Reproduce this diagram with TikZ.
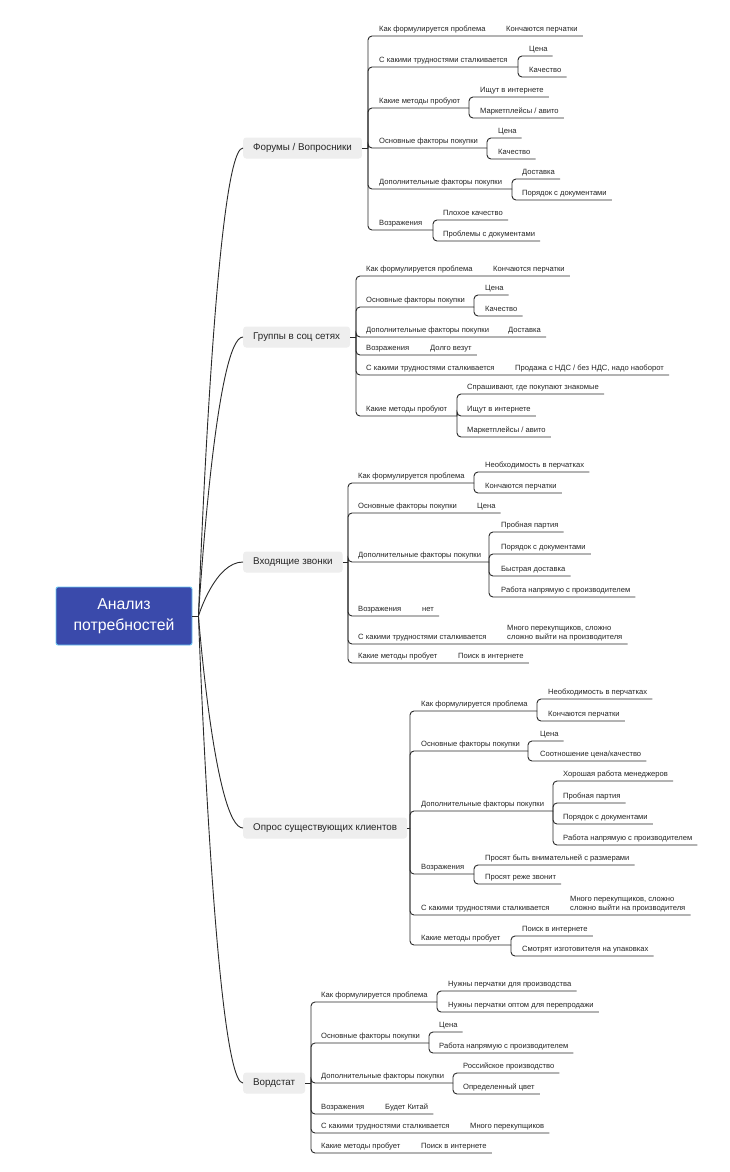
\documentclass[tikz,border=0pt]{standalone}
\usepackage{fontspec}
\setmainfont{Liberation Sans}
\definecolor{rootblue}{HTML}{3A4AAB}
\definecolor{rootedge}{HTML}{6CC8F2}
\definecolor{topicgray}{HTML}{EEEEEE}
\definecolor{linegray}{HTML}{2A2A2A}

\begin{document}
\begin{tikzpicture}[x = 1pt, y = -1pt,
  root/.style = {draw = rootedge, line width = .9pt, fill = rootblue, rounded corners = 2pt, text = white,
    font = \fontsize{15.8}{20.5}\selectfont, align = center, minimum width = 136pt, minimum height = 58pt},
  topic/.style = {fill = topicgray, rounded corners = 3pt, anchor = west, inner xsep = 10pt, minimum height = 21pt,
    font = \fontsize{9.8}{12}\selectfont, text = black!85},
  item/.style = {anchor = south west, inner xsep = 0pt, inner ysep = 2.5pt, text height = 5.5pt, text depth = 2pt,
    font = \fontsize{7.6}{9}\selectfont, text = black!85},
  link/.style = {draw = linegray, line width = .9pt, rounded corners = 4pt},
  curve/.style = {draw = linegray, line width = .9pt}]
\fill[white] (0,0) rectangle (730,1172);
\useasboundingbox (0,0) rectangle (730,1172);

\node[root] (root) at (124,616) {Анализ\\потребностей};
\coordinate (hub) at ([xshift = 6pt]root.east);

\node[topic] (forum) at (243,148) {Форумы / Вопросники};
\node[topic] (groups) at (243,337) {Группы в соц сетях};
\node[topic] (calls) at (243,562) {Входящие звонки};
\node[topic] (survey) at (243,828) {Опрос существующих клиентов};
\node[topic] (wordstat) at (243,1083) {Вордстат};

\draw[curve] (root.east) -- (hub);
\foreach \t in {forum, groups, calls, survey, wordstat}
  \draw[curve] (hub) .. controls (hub) and ([xshift = -28pt]\t.west) .. (\t.west);

% Форумы / Вопросники
\coordinate (fj) at (368,148);
\node[item] (f1) at (379,36) {Как формулируется проблема};
\node[item] (f1a) at (506,36) {Кончаются перчатки};
\node[item] (f2) at (379,67) {С какими трудностями сталкивается};
\coordinate (f2j) at (518,67);
\node[item] (f2a) at (529,56) {Цена};
\node[item] (f2b) at (529,77) {Качество};
\node[item] (f3) at (379,108) {Какие методы пробуют};
\coordinate (f3j) at (469,108);
\node[item] (f3a) at (480,97) {Ищут в интернете};
\node[item] (f3b) at (480,118) {Маркетплейсы / авито};
\node[item] (f4) at (379,148) {Основные факторы покупки};
\coordinate (f4j) at (487,148);
\node[item] (f4a) at (498,138) {Цена};
\node[item] (f4b) at (498,159) {Качество};
\node[item] (f5) at (379,189) {Дополнительные факторы покупки};
\coordinate (f5j) at (512,189);
\node[item] (f5a) at (522,179) {Доставка};
\node[item] (f5b) at (522,200) {Порядок с документами};
\node[item] (f6) at (379,230) {Возражения};
\coordinate (f6j) at (433,230);
\node[item] (f6a) at (443,220) {Плохое качество};
\node[item] (f6b) at (443,241) {Проблемы с документами};

\draw[link] (forum) -- (fj);
\draw[link] (fj) |- ([xshift = 5pt]f1a.south east);
\draw[link] (fj) |- (f2j);
\draw[link] (f2j) |- ([xshift = 5pt]f2a.south east);
\draw[link] (f2j) |- ([xshift = 5pt]f2b.south east);
\draw[link] (fj) |- (f3j);
\draw[link] (f3j) |- ([xshift = 5pt]f3a.south east);
\draw[link] (f3j) |- ([xshift = 5pt]f3b.south east);
\draw[link] (fj) |- (f4j);
\draw[link] (f4j) |- ([xshift = 5pt]f4a.south east);
\draw[link] (f4j) |- ([xshift = 5pt]f4b.south east);
\draw[link] (fj) |- (f5j);
\draw[link] (f5j) |- ([xshift = 5pt]f5a.south east);
\draw[link] (f5j) |- ([xshift = 5pt]f5b.south east);
\draw[link] (fj) |- (f6j);
\draw[link] (f6j) |- ([xshift = 5pt]f6a.south east);
\draw[link] (f6j) |- ([xshift = 5pt]f6b.south east);

% Группы в соц сетях
\coordinate (gj) at (356,337);
\node[item] (g1) at (366,276) {Как формулируется проблема};
\node[item] (g1a) at (493,276) {Кончаются перчатки};
\node[item] (g2) at (366,307) {Основные факторы покупки};
\coordinate (g2j) at (474,307);
\node[item] (g2a) at (485,295) {Цена};
\node[item] (g2b) at (485,316) {Качество};
\node[item] (g3) at (366,337) {Дополнительные факторы покупки};
\node[item] (g3a) at (508,337) {Доставка};
\node[item] (g4) at (366,355) {Возражения};
\node[item] (g4a) at (430,355) {Долго везут};
\node[item] (g5) at (366,375) {С какими трудностями сталкивается};
\node[item] (g5a) at (515,375) {Продажа с НДС / без НДС, надо наоборот};
\node[item] (g6) at (366,416) {Какие методы пробуют};
\coordinate (g6j) at (457,416);
\node[item] (g6a) at (467,394) {Спрашивают, где покупают знакомые};
\node[item] (g6b) at (467,416) {Ищут в интернете};
\node[item] (g6c) at (467,437) {Маркетплейсы / авито};

\draw[link] (groups) -- (gj);
\draw[link] (gj) |- ([xshift = 5pt]g1a.south east);
\draw[link] (gj) |- (g2j);
\draw[link] (g2j) |- ([xshift = 5pt]g2a.south east);
\draw[link] (g2j) |- ([xshift = 5pt]g2b.south east);
\draw[link] (gj) |- ([xshift = 5pt]g3a.south east);
\draw[link] (gj) |- ([xshift = 5pt]g4a.south east);
\draw[link] (gj) |- ([xshift = 5pt]g5a.south east);
\draw[link] (gj) |- (g6j);
\draw[link] (g6j) |- ([xshift = 5pt]g6a.south east);
\draw[link] (g6j) |- ([xshift = 5pt]g6b.south east);
\draw[link] (g6j) |- ([xshift = 5pt]g6c.south east);

% Входящие звонки
\coordinate (cj) at (348,562);
\node[item] (c1) at (358,483) {Как формулируется проблема};
\coordinate (c1j) at (474,483);
\node[item] (c1a) at (485,472) {Необходимость в перчатках};
\node[item] (c1b) at (485,493) {Кончаются перчатки};
\node[item] (c2) at (358,513) {Основные факторы покупки};
\node[item] (c2a) at (477,513) {Цена};
\node[item] (c3) at (358,562) {Дополнительные факторы покупки};
\coordinate (c3j) at (489,562);
\node[item] (c3a) at (501,532) {Пробная партия};
\node[item] (c3b) at (501,554) {Порядок с документами};
\node[item] (c3c) at (501,576) {Быстрая доставка};
\node[item] (c3d) at (501,597) {Работа напрямую с производителем};
\node[item] (c4) at (358,616) {Возражения};
\node[item] (c4a) at (422,616) {нет};
\node[item] (c5) at (358,644) {С какими трудностями сталкивается};
\node[item, align = left] (c5a) at (507,644) {Много перекупщиков, сложно\\сложно выйти на производителя};
\node[item] (c6) at (358,663) {Какие методы пробует};
\node[item] (c6a) at (458,663) {Поиск в интернете};

\draw[link] (calls) -- (cj);
\draw[link] (cj) |- (c1j);
\draw[link] (c1j) |- ([xshift = 5pt]c1a.south east);
\draw[link] (c1j) |- ([xshift = 5pt]c1b.south east);
\draw[link] (cj) |- ([xshift = 5pt]c2a.south east);
\draw[link] (cj) |- (c3j);
\draw[link] (c3j) |- ([xshift = 5pt]c3a.south east);
\draw[link] (c3j) |- ([xshift = 5pt]c3b.south east);
\draw[link] (c3j) |- ([xshift = 5pt]c3c.south east);
\draw[link] (c3j) |- ([xshift = 5pt]c3d.south east);
\draw[link] (cj) |- ([xshift = 5pt]c4a.south east);
\draw[link] (cj) |- ([xshift = 5pt]c5a.south east);
\draw[link] (cj) |- ([xshift = 5pt]c6a.south east);

% Опрос существующих клиентов
\coordinate (sj) at (410,828);
\node[item] (s1) at (421,711) {Как формулируется проблема};
\coordinate (s1j) at (537,711);
\node[item] (s1a) at (548,699) {Необходимость в перчатках};
\node[item] (s1b) at (548,721) {Кончаются перчатки};
\node[item] (s2) at (421,751) {Основные факторы покупки};
\coordinate (s2j) at (528,751);
\node[item] (s2a) at (540,741) {Цена};
\node[item] (s2b) at (540,761) {Соотношение цена/качество};
\node[item] (s3) at (421,811) {Дополнительные факторы покупки};
\coordinate (s3j) at (553,811);
\node[item] (s3a) at (563,781) {Хорошая работа менеджеров};
\node[item] (s3b) at (563,803) {Пробная партия};
\node[item] (s3c) at (563,824) {Порядок с документами};
\node[item] (s3d) at (563,845) {Работа напрямую с производителем};
\node[item] (s4) at (421,874) {Возражения};
\coordinate (s4j) at (474,874);
\node[item] (s4a) at (485,865) {Просят быть внимательней с размерами};
\node[item] (s4b) at (485,884) {Просят реже звонит};
\node[item] (s5) at (421,915) {С какими трудностями сталкивается};
\node[item, align = left] (s5a) at (570,915) {Много перекупщиков, сложно\\сложно выйти на производителя};
\node[item] (s6) at (421,945) {Какие методы пробует};
\coordinate (s6j) at (511,945);
\node[item] (s6a) at (522,936) {Поиск в интернете};
\node[item] (s6b) at (522,956) {Смотрят изготовителя на упаковках};

\draw[link] (survey) -- (sj);
\draw[link] (sj) |- (s1j);
\draw[link] (s1j) |- ([xshift = 5pt]s1a.south east);
\draw[link] (s1j) |- ([xshift = 5pt]s1b.south east);
\draw[link] (sj) |- (s2j);
\draw[link] (s2j) |- ([xshift = 5pt]s2a.south east);
\draw[link] (s2j) |- ([xshift = 5pt]s2b.south east);
\draw[link] (sj) |- (s3j);
\draw[link] (s3j) |- ([xshift = 5pt]s3a.south east);
\draw[link] (s3j) |- ([xshift = 5pt]s3b.south east);
\draw[link] (s3j) |- ([xshift = 5pt]s3c.south east);
\draw[link] (s3j) |- ([xshift = 5pt]s3d.south east);
\draw[link] (sj) |- (s4j);
\draw[link] (s4j) |- ([xshift = 5pt]s4a.south east);
\draw[link] (s4j) |- ([xshift = 5pt]s4b.south east);
\draw[link] (sj) |- ([xshift = 5pt]s5a.south east);
\draw[link] (sj) |- (s6j);
\draw[link] (s6j) |- ([xshift = 5pt]s6a.south east);
\draw[link] (s6j) |- ([xshift = 5pt]s6b.south east);

% Вордстат
\coordinate (wj) at (311,1083);
\node[item] (w1) at (321,1002) {Как формулируется проблема};
\coordinate (w1j) at (437,1002);
\node[item] (w1a) at (448,991) {Нужны перчатки для производства};
\node[item] (w1b) at (448,1012) {Нужны перчатки оптом для перепродажи};
\node[item] (w2) at (321,1043) {Основные факторы покупки};
\coordinate (w2j) at (429,1043);
\node[item] (w2a) at (439,1032) {Цена};
\node[item] (w2b) at (439,1053) {Работа напрямую с производителем};
\node[item] (w3) at (321,1083) {Дополнительные факторы покупки};
\coordinate (w3j) at (453,1083);
\node[item] (w3a) at (463,1073) {Российское производство};
\node[item] (w3b) at (463,1094) {Определенный цвет};
\node[item] (w4) at (321,1114) {Возражения};
\node[item] (w4a) at (385,1114) {Будет Китай};
\node[item] (w5) at (321,1133) {С какими трудностями сталкивается};
\node[item] (w5a) at (470,1133) {Много перекупщиков};
\node[item] (w6) at (321,1153) {Какие методы пробует};
\node[item] (w6a) at (421,1153) {Поиск в интернете};

\draw[link] (wordstat) -- (wj);
\draw[link] (wj) |- (w1j);
\draw[link] (w1j) |- ([xshift = 5pt]w1a.south east);
\draw[link] (w1j) |- ([xshift = 5pt]w1b.south east);
\draw[link] (wj) |- (w2j);
\draw[link] (w2j) |- ([xshift = 5pt]w2a.south east);
\draw[link] (w2j) |- ([xshift = 5pt]w2b.south east);
\draw[link] (wj) |- (w3j);
\draw[link] (w3j) |- ([xshift = 5pt]w3a.south east);
\draw[link] (w3j) |- ([xshift = 5pt]w3b.south east);
\draw[link] (wj) |- ([xshift = 5pt]w4a.south east);
\draw[link] (wj) |- ([xshift = 5pt]w5a.south east);
\draw[link] (wj) |- ([xshift = 5pt]w6a.south east);
\end{tikzpicture}
\end{document}
